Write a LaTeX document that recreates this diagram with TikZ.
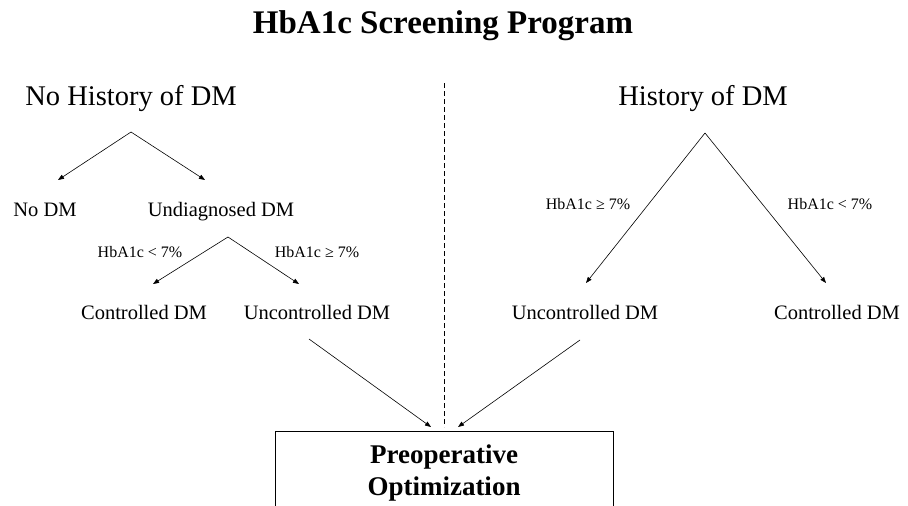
\documentclass[tikz,border=0pt]{standalone}
\usepackage{fontspec}
\setmainfont{Liberation Serif}
\usetikzlibrary{arrows.meta}
\begin{document}
\begin{tikzpicture}[x=1pt,y=-1pt,
  every node/.style={inner sep=0pt,text=black,anchor=base},
  title/.style={font=\fontsize{33}{38}\selectfont\bfseries},
  head/.style={font=\fontsize{28.5}{33}\selectfont},
  item/.style={font=\fontsize{20.5}{25}\selectfont},
  lab/.style={font=\fontsize{16}{20}\selectfont},
  arr/.style={line width=0.6pt,-{Triangle[length=6pt,width=4.5pt]}},
  boxtext/.style={font=\fontsize{27}{32}\selectfont\bfseries}]
\useasboundingbox (0,0) rectangle (908,506);
\clip (0,0) rectangle (908,506);
% title and headings
\node[title] (title) at (443,33) {HbA1c Screening Program};
\node[head] (nohist) at (131,105) {No History of DM};
\node[head] (hist) at (703,105) {History of DM};
% divider
\coordinate (divtop) at (444,83);
\coordinate (divbot) at (444,427);
\draw[line width=0.8pt,dash pattern=on 5pt off 3pt] (divtop) -- (divbot);
% left tree
\coordinate (a1) at (131,132);
\coordinate (e1) at (58,180);
\coordinate (e2) at (205,180);
\node[item] (nodm) at (45,216) {No DM};
\node[item] (undiag) at (221,216) {Undiagnosed DM};
\draw[arr] (a1) -- (e1);
\draw[arr] (a1) -- (e2);
\coordinate (a2) at (228,237);
\coordinate (e3) at (153,284);
\coordinate (e4) at (299,284);
\draw[arr] (a2) -- (e3);
\draw[arr] (a2) -- (e4);
\node[lab] (l1) at (140,257) {HbA1c < 7\%};
\node[lab] (l2) at (317,257) {HbA1c ≥ 7\%};
\node[item] (ctrlL) at (144,319) {Controlled DM};
\node[item] (unctrlL) at (317,319) {Uncontrolled DM};
% right tree
\coordinate (a3) at (705,133);
\coordinate (e5) at (586,283);
\coordinate (e6) at (826,283);
\draw[arr] (a3) -- (e5);
\draw[arr] (a3) -- (e6);
\node[lab] (l3) at (588,209) {HbA1c ≥ 7\%};
\node[lab] (l4) at (830,209) {HbA1c < 7\%};
\node[item] (unctrlR) at (585,319) {Uncontrolled DM};
\node[item] (ctrlR) at (837,319) {Controlled DM};
% box
\coordinate (boxTL) at (275,431);
\coordinate (boxBR) at (613,530);
\draw[line width=1pt] (boxTL) rectangle (boxBR);
\node[boxtext] (box1) at (444,463) {Preoperative};
\node[boxtext] (box2) at (444,495) {Optimization};
% arrows to box
\coordinate (s1) at (309,339);
\coordinate (t1) at (431,427);
\coordinate (s2) at (580,340);
\coordinate (t2) at (458,427);
\draw[arr] (s1) -- (t1);
\draw[arr] (s2) -- (t2);
\end{tikzpicture}
\end{document}
